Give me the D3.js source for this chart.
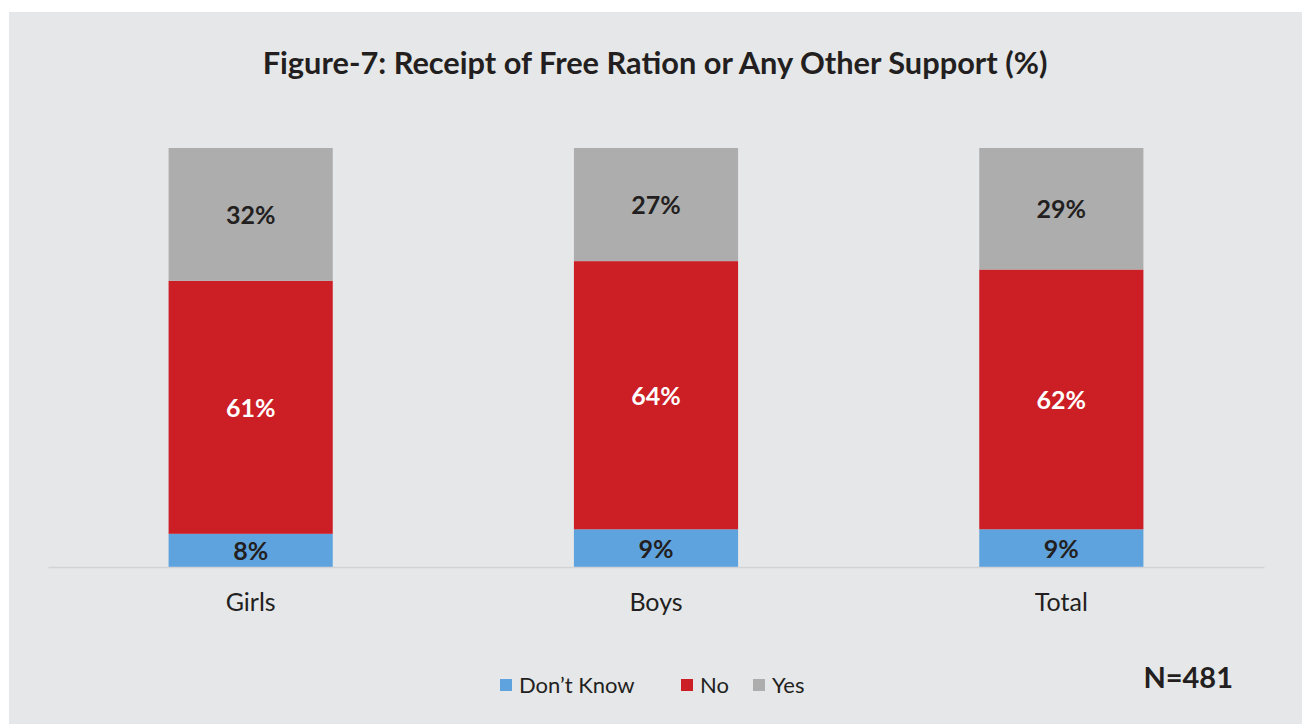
<!DOCTYPE html>
<html>
<head>
<meta charset="utf-8">
<script src="https://cdn.jsdelivr.net/npm/d3@7"></script>
<style>
  html, body { margin: 0; padding: 0; background: #ffffff; }
  svg { display: block; font-family: Lato, "Noto Sans", sans-serif; }
</style>
</head>
<body>
<script>
// chart values
const groups = ["Girls", "Boys", "Total"];
const seriesNames = ["Don\u2019t Know", "No", "Yes"];
const dontKnow = [8, 9, 9];
const no = [61, 64, 62];
const yes = [32, 27, 29];
const colors = ["#5fa3de", "#cc1e25", "#adadad"];
const labelColors = ["#231f20", "#ffffff", "#231f20"];

const width = 1302, height = 724;
const keys = ["dk", "no", "yes"];

let rows = groups.map((g, i) => ({group: g, dk: dontKnow[i], no: no[i], yes: yes[i]}));

// Excel style 100% stacked columns
let stack = d3.stack().keys(keys).offset(d3.stackOffsetExpand);
let series = stack(rows);

let svg = d3.select("body")
  .append("svg")
    .attr("width", width)
    .attr("height", height);

// panel background
svg.append("rect")
  .attr("x", 9)
  .attr("y", 12)
  .attr("width", width - 9)
  .attr("height", height - 12)
  .attr("fill", "#e6e7e9");

let x = d3.scaleBand()
  .domain(groups)
  .range([48, 1264])
  .paddingInner(0.595)
  .paddingOuter(0.2975);

let y = d3.scaleLinear()
  .domain([0, 1])
  .range([567, 148]);

// title
let title = svg.append("text")
  .attr("x", 655)
  .attr("y", 74)
  .attr("text-anchor", "middle")
  .attr("font-weight", "bold")
  .attr("font-size", 30)
  .attr("fill", "#231f20")
  .text("Figure-7: Receipt of Free Ration or Any Other Support (%)");
// fit title width to the original
let tw = title.node().getComputedTextLength();
title.attr("font-size", 30 * 785 / tw);

// bars
let layers = svg.selectAll("g.layer")
  .data(series)
  .enter()
  .append("g")
    .attr("class", "layer")
    .attr("fill", (d, i) => colors[i]);

layers.selectAll("rect")
  .data(d => d)
  .enter()
  .append("rect")
    .attr("x", d => x(d.data.group))
    .attr("y", d => y(d[1]))
    .attr("width", x.bandwidth())
    .attr("height", d => y(d[0]) - y(d[1]));

// value labels
layers.each(function(s, si) {
  d3.select(this).selectAll("text")
    .data(s)
    .enter()
    .append("text")
      .attr("x", d => x(d.data.group) + x.bandwidth() / 2)
      .attr("y", d => (y(d[0]) + y(d[1])) / 2)
      .attr("dy", "0.38em")
      .attr("text-anchor", "middle")
      .attr("font-weight", "bold")
      .attr("font-size", 25)
      .attr("fill", labelColors[si])
      .text(d => d.data[s.key] + "%");
});

// x axis
let xAxis = svg.append("g")
  .attr("transform", "translate(0,567)")
  .call(d3.axisBottom(x).tickSize(0).tickSizeOuter(0).tickPadding(25));
xAxis.select(".domain")
  .attr("stroke", "#d3d3d5")
  .attr("stroke-width", 1.5);
xAxis.selectAll(".tick text")
  .attr("font-family", "Lato, 'Noto Sans', sans-serif")
  .attr("font-size", 25)
  .attr("fill", "#231f20")
  .attr("dy", "0.75em");

// legend
const legendX = [500, 681, 753];
let legend = svg.append("g");
let items = legend.selectAll("g")
  .data(seriesNames)
  .enter()
  .append("g")
    .attr("transform", (d, i) => `translate(${legendX[i]},679)`);
items.append("rect")
  .attr("width", 12)
  .attr("height", 12)
  .attr("fill", (d, i) => colors[i]);
items.append("text")
  .attr("x", 19)
  .attr("y", 14)
  .attr("font-size", 22)
  .attr("fill", "#231f20")
  .text(d => d);

// sample size
svg.append("text")
  .attr("x", 1233)
  .attr("y", 688)
  .attr("text-anchor", "end")
  .attr("font-weight", "bold")
  .attr("font-size", 29)
  .attr("fill", "#231f20")
  .text("N=481");
</script>
</body>
</html>
